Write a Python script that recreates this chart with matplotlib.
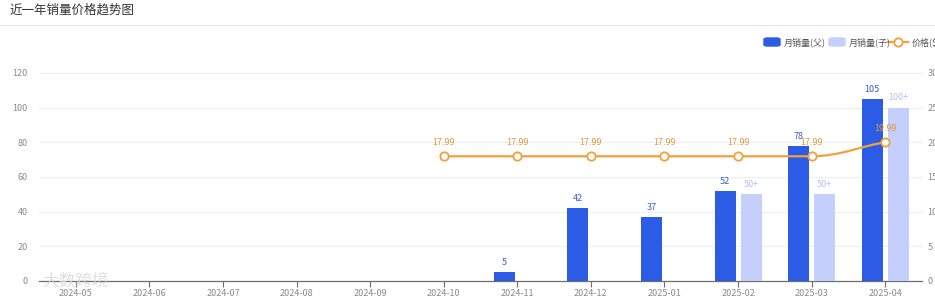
import matplotlib
matplotlib.use("Agg")
import matplotlib.pyplot as plt
from matplotlib.path import Path
from matplotlib.patches import PathPatch, FancyBboxPatch
from matplotlib.lines import Line2D
import numpy as np

plt.rcParams['font.family'] = ['Noto Sans CJK SC', 'DejaVu Sans']

months = ['2024-05', '2024-06', '2024-07', '2024-08', '2024-09', '2024-10',
          '2024-11', '2024-12', '2025-01', '2025-02', '2025-03', '2025-04']
parent_sales = [None, None, None, None, None, None, 5, 42, 37, 52, 78, 105]
child_sales = [None, None, None, None, None, None, None, None, None, 50, 50, 100]
child_labels = [None, None, None, None, None, None, None, None, None, '50+', '50+', '100+']
price = [None, None, None, None, None, 17.99, 17.99, 17.99, 17.99, 17.99, 17.99, 19.99]
left_ticks = [0, 20, 40, 60, 80, 100, 120]
right_ticks = [0, 5, 10, 15, 20, 25, 30]

DARK = '#2c5be6'
LIGHT = '#c4cffc'
ORANGE = '#f0a03c'
GRID = '#eceef3'
TXT = '#8a8a8a'

W, H = 935, 298
fig = plt.figure(figsize=(W / 100, H / 100), dpi=100)

def fx(px):
    return px / W

def fy(py):
    return 1 - py / H

# title + separator
fig.text(fx(10), fy(10), '近一年销量价格趋势图', fontsize=9, color='#333333', va='center', ha='left')
fig.add_artist(Line2D([0, 1], [fy(25), fy(25)], color='#e6e6e6', lw=1, transform=fig.transFigure))

ax = fig.add_axes([fx(39), fy(281), fx(883), (281 - 73) / H])
ax2 = ax.twinx()

x = np.arange(len(months))
bw = 0.285
off = 0.177

for i, v in enumerate(parent_sales):
    if v is not None:
        ax.bar(x[i] - off, v, width=bw, color=DARK, zorder=3)
        ax.text(x[i] - off, v + 3, str(v), ha='center', va='bottom', fontsize=6.5, color='#3a5bd0', zorder=5)
for i, v in enumerate(child_sales):
    if v is not None:
        ax.bar(x[i] + off, v, width=bw, color=LIGHT, zorder=3)
        ax.text(x[i] + off, v + 3, child_labels[i], ha='center', va='bottom', fontsize=6.5, color='#b4c1f4', zorder=5)

ax.set_xlim(-0.5, len(months) - 0.5)
ax.set_ylim(0, 120)
ax.set_yticks(left_ticks)
ax.set_xticks(x)
ax.set_xticklabels(months)
ax.grid(axis='y', color=GRID, lw=0.8, zorder=0)
ax.set_axisbelow(True)
for s in ['top', 'right', 'left']:
    ax.spines[s].set_visible(False)
ax.spines['bottom'].set_color('#6e6e6e')
ax.spines['bottom'].set_linewidth(0.9)
ax.tick_params(axis='x', colors='#6e6e6e', labelcolor=TXT, labelsize=6.5, length=4, width=0.8, pad=2)
ax.tick_params(axis='y', length=0, labelcolor=TXT, labelsize=6.5, pad=8)

# price line
pts = [(i, p) for i, p in enumerate(price) if p is not None]
verts = [pts[0]]
codes = [Path.MOVETO]
for k in range(1, len(pts)):
    (x0, y0), (x1, y1) = pts[k - 1], pts[k]
    if y0 == y1:
        verts.append((x1, y1))
        codes.append(Path.LINETO)
    else:
        verts += [(x0 + 0.4 * (x1 - x0), y0), (x0 + 0.7 * (x1 - x0), y0 + 0.8 * (y1 - y0)), (x1, y1)]
        codes += [Path.CURVE4] * 3
ax2.add_patch(PathPatch(Path(verts, codes), fill=False, edgecolor=ORANGE, lw=1.6, zorder=4))
px_ = [p[0] for p in pts]
py_ = [p[1] for p in pts]
ax2.plot(px_, py_, 'o', ms=6, mfc='white', mec=ORANGE, mew=1.3, zorder=6)
for a, b in pts:
    ax2.text(a, b + 1.4, f'{b:.2f}', ha='center', va='bottom', fontsize=6.5, color='#e8963a', zorder=7)

ax2.set_ylim(0, 30)
ax2.set_yticks(right_ticks)
for s in ['top', 'right', 'left', 'bottom']:
    ax2.spines[s].set_visible(False)
ax2.tick_params(axis='y', length=0, labelcolor=TXT, labelsize=6.5, pad=4)

# legend (manual)
fig.add_artist(FancyBboxPatch((fx(764), fy(46)), fx(16), (46 - 38) / H,
                              boxstyle='round,pad=0,rounding_size=0.004', color=DARK, transform=fig.transFigure))
fig.text(fx(784), fy(42), '月销量(父)', fontsize=6.5, color='#555555', va='center', ha='left')
fig.add_artist(FancyBboxPatch((fx(829), fy(46)), fx(16), (46 - 38) / H,
                              boxstyle='round,pad=0,rounding_size=0.004', color=LIGHT, transform=fig.transFigure))
fig.text(fx(849), fy(42), '月销量(子)', fontsize=6.5, color='#555555', va='center', ha='left')
fig.add_artist(Line2D([fx(888), fx(908)], [fy(42), fy(42)], color=ORANGE, lw=1.6, transform=fig.transFigure))
fig.add_artist(Line2D([fx(898)], [fy(42)], marker='o', ms=6, mfc='white', mec=ORANGE, mew=1.3,
                      transform=fig.transFigure))
fig.text(fx(912), fy(42), '价格($)', fontsize=6.5, color='#555555', va='center', ha='left')

# watermark
fig.text(fx(42), fy(282), '大数跨境', fontsize=12, color='#d8d8d8', alpha=0.8, va='center', ha='left', zorder=10)

fig.savefig('out.png', dpi=100)
